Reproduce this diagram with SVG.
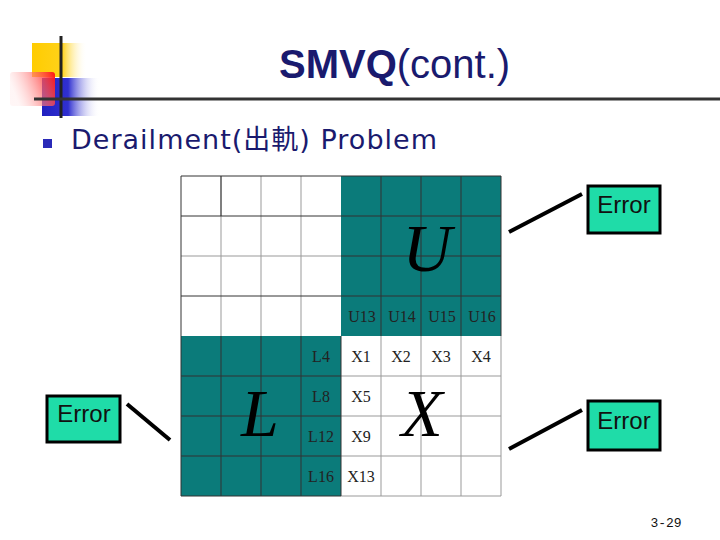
<svg xmlns="http://www.w3.org/2000/svg" width="720" height="540" viewBox="0 0 720 540">
<defs>
<linearGradient id="gy" x1="0" x2="1" y1="0" y2="0"><stop offset="0" stop-color="#ffcc00"/><stop offset="0.55" stop-color="#ffd21a"/><stop offset="1" stop-color="#fff" stop-opacity="0"/></linearGradient>
<linearGradient id="gr" x1="1" x2="0" y1="0" y2="0.3"><stop offset="0" stop-color="#ff1010"/><stop offset="1" stop-color="#ffe0e0" stop-opacity="0.3"/></linearGradient>
<linearGradient id="gb" x1="0" x2="1" y1="0" y2="0"><stop offset="0" stop-color="#2020c0"/><stop offset="0.45" stop-color="#3030d0"/><stop offset="1" stop-color="#fff" stop-opacity="0"/></linearGradient>
<style>
.title{font-family:"Liberation Sans",Arial,sans-serif;font-size:40px;fill:#1a1a6e}
.bul{font-family:"DejaVu Sans","Noto Sans CJK TC",sans-serif;font-size:27px;fill:#1a1a6e}
.cell{font-family:"Liberation Serif","Times New Roman",serif;font-size:16px;fill:#222;text-anchor:middle}
.big{font-family:"Liberation Serif","Times New Roman",serif;font-style:italic;font-size:68px;fill:#000;text-anchor:middle}
.teal{fill:#0b7b7a}
.gl{stroke:#999;stroke-width:1}
.dl{stroke:#333;stroke-width:1}
.err rect{fill:#1fdca8;stroke:#000;stroke-width:3}
.err text{font-family:"Liberation Sans",Arial,sans-serif;font-size:24px;fill:#111;text-anchor:middle}
.conn line{stroke:#000;stroke-width:4}
</style>
</defs>
<rect width="720" height="540" fill="#fff"/>
<g id="logo">
<rect x="32" y="43" width="55" height="34" fill="url(#gy)"/>
<rect x="42" y="78" width="58" height="38" fill="url(#gb)"/>
<rect x="10" y="72" width="45" height="34" rx="3" fill="url(#gr)"/>
<line x1="61" y1="36" x2="61" y2="118" stroke="#222" stroke-width="3"/>
<line x1="34" y1="99" x2="720" y2="99" stroke="#333" stroke-width="3"/>
</g>
<text class="title" x="279" y="78"><tspan font-weight="bold">SMVQ</tspan>(cont.)</text>
<rect x="43" y="139" width="9" height="9" fill="#2a2ab8"/>
<text class="bul" x="71" y="149" textLength="366">Derailment(出軌) Problem</text>
<g id="grid">
<rect class="teal" x="341" y="176" width="160" height="160"/>
<rect class="teal" x="181" y="336" width="160" height="160"/>
<g class="gl">
<line x1="221" y1="176" x2="221" y2="336"/><line x1="261" y1="176" x2="261" y2="336"/><line x1="301" y1="176" x2="301" y2="336"/>
<line x1="181" y1="256" x2="341" y2="256"/>
<line x1="381" y1="336" x2="381" y2="496"/><line x1="421" y1="336" x2="421" y2="496"/><line x1="461" y1="336" x2="461" y2="496"/><line x1="501" y1="336" x2="501" y2="496"/>
<line x1="341" y1="376" x2="501" y2="376"/><line x1="341" y1="416" x2="501" y2="416"/><line x1="341" y1="456" x2="501" y2="456"/><line x1="341" y1="496" x2="501" y2="496"/>
</g>
<g class="dl">
<line x1="181" y1="176" x2="501" y2="176"/><line x1="181" y1="176" x2="181" y2="496"/>
<line x1="181" y1="216" x2="501" y2="216"/><line x1="341" y1="256" x2="501" y2="256"/><line x1="181" y1="296" x2="501" y2="296"/>
<line x1="221" y1="176" x2="221" y2="216"/>
<line x1="381" y1="176" x2="381" y2="336"/><line x1="421" y1="176" x2="421" y2="336"/><line x1="461" y1="176" x2="461" y2="336"/><line x1="501" y1="176" x2="501" y2="336"/>
<line x1="221" y1="336" x2="221" y2="496"/><line x1="261" y1="336" x2="261" y2="496"/><line x1="301" y1="336" x2="301" y2="496"/><line x1="341" y1="336" x2="341" y2="496"/>
<line x1="181" y1="376" x2="341" y2="376"/><line x1="181" y1="416" x2="341" y2="416"/><line x1="181" y1="456" x2="341" y2="456"/><line x1="181" y1="496" x2="341" y2="496"/>
</g>
<text class="cell" x="362" y="322">U13</text><text class="cell" x="402" y="322">U14</text><text class="cell" x="442" y="322">U15</text><text class="cell" x="482" y="322">U16</text>
<text class="cell" x="321" y="362">L4</text><text class="cell" x="321" y="402">L8</text><text class="cell" x="321" y="442">L12</text><text class="cell" x="321" y="482">L16</text>
<text class="cell" x="361" y="362">X1</text><text class="cell" x="401" y="362">X2</text><text class="cell" x="441" y="362">X3</text><text class="cell" x="481" y="362">X4</text>
<text class="cell" x="361" y="402">X5</text><text class="cell" x="361" y="442">X9</text><text class="cell" x="361" y="482">X13</text>
<text class="big" x="427" y="271">U</text>
<text class="big" x="260" y="436">L</text>
<text class="big" x="422" y="436">X</text>
</g>
<g id="connectors" class="conn">
<line x1="509" y1="232" x2="582" y2="194"/>
<line x1="509" y1="449" x2="582" y2="410"/>
<line x1="127" y1="404" x2="170" y2="440"/>
</g>
<g id="err1" class="err"><rect x="588" y="186" width="72" height="47"/><text x="624" y="213">Error</text></g>
<g id="err2" class="err"><rect x="47" y="396" width="73" height="46"/><text x="84" y="422">Error</text></g>
<g id="err3" class="err"><rect x="588" y="401" width="72" height="49"/><text x="624" y="429">Error</text></g>
<text x="666" y="527" font-family="Liberation Mono,monospace" font-size="13" fill="#111" text-anchor="middle">3-29</text>
</svg>
